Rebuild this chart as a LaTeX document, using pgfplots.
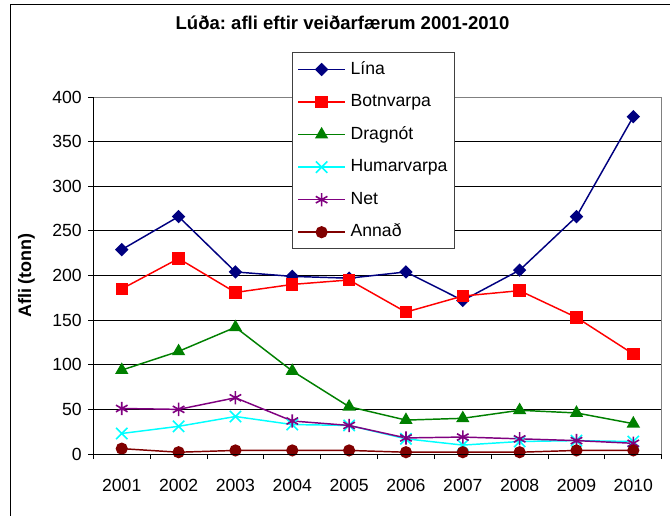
\documentclass[border=0pt]{standalone}
\usepackage{fontspec}
\setmainfont{Liberation Sans}
\usepackage{pgfplots}
\pgfplotsset{compat=1.18}
\definecolor{lina}{RGB}{0,0,128}
\definecolor{botn}{RGB}{255,0,0}
\definecolor{drag}{RGB}{0,128,0}
\definecolor{humar}{RGB}{0,255,255}
\definecolor{netc}{RGB}{128,0,128}
\definecolor{annad}{RGB}{128,0,0}
\frenchspacing
\begin{document}
\begin{tikzpicture}[x=1pt,y=1pt]
\path[use as bounding box, clip] (0,0) rectangle (502.5,386.25);
\fill[white] (0,0) rectangle (502.5,386.25);
\draw[black, line width=0.8pt] (7.8,-20) -- (7.8,383.2) -- (530,383.2);
\begin{axis}[
  at={(70pt,45.75pt)}, anchor=south west,
  scale only axis, width=426.3pt, height=267.75pt,
  xmin=0.5, xmax=10.5, ymin=0, ymax=400,
  xtick={0.5,1.5,...,10.5},
  xticklabels={2001,2002,2003,2004,2005,2006,2007,2008,2009,2010},
  x tick label as interval,
  ytick={0,50,...,400},
  tick pos=left, tick align=outside,
  major tick length=3.75pt,
  tick style={black, line width=0.75pt},
  ymajorgrids,
  major grid style={black, line width=0.6pt},
  axis line style={black!50, line width=0.75pt},
  /pgf/number format/assume math mode=true,
  ticklabel style={font=\fontsize{13.2}{15}\selectfont},
  xticklabel style={anchor=base, yshift=-24.5pt},
  yticklabel style={anchor=east, xshift=-1.5pt},
  title={Lúða: afli eftir veiðarfærum 2001-2010},
  title style={at={(axis description cs:0.4384,1.1653)}, anchor=base, font=\bfseries\fontsize{13.9}{16}\selectfont},
  ylabel={Afli (tonn)},
  every axis y label/.style={at={(axis description cs:-0.1175,0.5)}, rotate=90, anchor=center, font=\bfseries\fontsize{13.5}{16}\selectfont},
  legend style={at={(axis description cs:0.349,1.125)}, anchor=north west,
    draw=black!75, line width=0.75pt, fill=white,
    font=\fontsize{13.2}{15}\selectfont,
    nodes={inner sep=1pt, text height=9.5pt, text depth=2.5pt},
    row sep=10.4pt, column sep=2.75pt,
    inner xsep=4pt, inner ysep=5.5pt},
  legend cell align=left,
  legend image code/.code={\draw[mark repeat=2,mark phase=2] plot coordinates {(0pt,0pt) (17.5pt,0pt) (35pt,0pt)};},
  every axis plot/.append style={line width=1.1pt},
  after end axis/.code={\draw[black, line width=0.75pt] (rel axis cs:0,1) -- (rel axis cs:0,0) -- (rel axis cs:1,0);},
]
\addplot[color=lina, mark=square*, mark size=3pt, mark options={rotate=45, solid, fill=lina}]
  coordinates {(1,229) (2,266) (3,204) (4,199) (5,197) (6,204) (7,172) (8,206) (9,266) (10,378)};
\addlegendentry{Lína}
\addplot[color=botn, mark=square*, mark size=4.1pt, mark options={solid, fill=botn}]
  coordinates {(1,185) (2,219) (3,181) (4,190) (5,195) (6,159) (7,177) (8,183) (9,153) (10,112)};
\addlegendentry{Botnvarpa}
\addplot[color=drag, mark=triangle*, mark size=4.7pt, mark options={solid, fill=drag}]
  coordinates {(1,94) (2,115) (3,142) (4,93) (5,53) (6,38) (7,40) (8,49) (9,46) (10,34)};
\addlegendentry{Dragnót}
\addplot[color=humar, mark=x, mark size=6pt, mark options={solid, line width=1.2pt}]
  coordinates {(1,23) (2,31) (3,42) (4,33) (5,32) (6,17) (7,10) (8,14) (9,15) (10,14)};
\addlegendentry{Humarvarpa}
\addplot[color=netc, mark=asterisk, mark size=5pt, mark options={solid, line width=1.2pt}]
  coordinates {(1,51) (2,50) (3,63) (4,37) (5,32) (6,18) (7,19) (8,17) (9,15) (10,12)};
\addlegendentry{Net}
\addplot[color=annad, mark=*, mark size=4pt, mark options={solid, fill=annad}]
  coordinates {(1,6) (2,2) (3,4) (4,4) (5,4) (6,2) (7,2) (8,2) (9,4) (10,4)};
\addlegendentry{Annað}
\end{axis}
\end{tikzpicture}
\end{document}
